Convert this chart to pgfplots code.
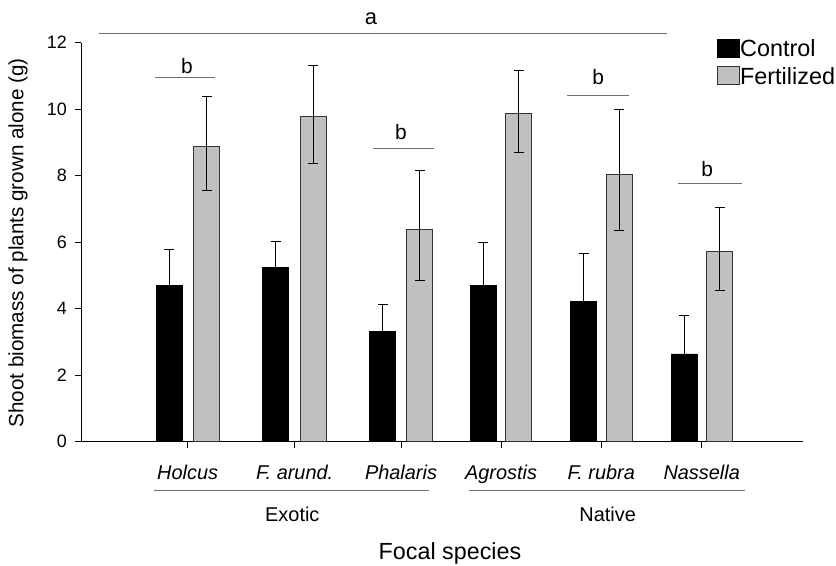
\documentclass[border=0pt]{standalone}
\usepackage{pgfplots}
\pgfplotsset{compat=1.18}
\usepackage{fontspec}
\setmainfont{Liberation Sans}
\definecolor{fert}{HTML}{C0C0C0}
\definecolor{annot}{HTML}{707070}
\begin{document}
\begin{tikzpicture}
\path[use as bounding box] (-81bp,-124.3bp) rectangle (755bp,441.7bp);
\begin{axis}[
  scale only axis,
  width=722bp, height=399bp,
  xmin=81, xmax=803, ymin=0, ymax=12,
  axis lines=left,
  axis line style={-, line width=1pt, black},
  clip=false,
  ytick={0,2,4,6,8,10,12},
  xtick={187.7,294.7,401,501,601.3,701.7},
  xticklabels={Holcus, F. arund., Phalaris, Agrostis, F. rubra, Nassella},
  tick align=outside,
  major tick length=6bp,
  tick style={line width=0.8pt, black},
  /pgf/number format/assume math mode=true,
  yticklabel style={font=\fontsize{18}{18}\selectfont, anchor=east, inner xsep=0pt, xshift=-8bp},
  xticklabel style={font=\fontsize{20}{20}\selectfont\itshape, anchor=base, yshift=-31.6bp},
  ylabel={Shoot biomass of plants grown alone (g)},
  ylabel style={font=\fontsize{20.7}{20.7}\selectfont, at={(axis cs:18,5.98)}, anchor=center},
  xlabel={Focal species},
  xlabel style={font=\fontsize{23.4}{23.4}\selectfont, at={(axis cs:450,-3.528)}, anchor=base},
  ybar, bar width=26, bar shift=0,
  legend style={at={(axis cs:716.7,12.13)}, anchor=north west, draw=none, fill=none,
    inner sep=0pt, font=\fontsize{23.5}{23.5}\selectfont, row sep=7bp,
    nodes={inner xsep=0.8bp, inner ysep=1bp}},
  legend cell align=left,
  legend image code/.code={\draw[#1, line width=0.8pt] (0bp,-8bp) rectangle (21.6bp,10bp);},
  error bars/y dir=both, error bars/y explicit,
  error bars/error bar style={line width=0.8pt, black},
  error bars/error mark options={mark size=5bp, line width=0.8pt, black, rotate=90},
]
\addplot[fill=black, draw=black, line width=0.8pt] coordinates {
  (169,4.70) += (0,1.09) -= (0,0.92)
  (275.5,5.25) += (0,0.77) -= (0,0.71)
  (382.5,3.32) += (0,0.81) -= (0,0.69)
  (483,4.71) += (0,1.29) -= (0,1.09)
  (583.7,4.21) += (0,1.44) -= (0,1.19)
  (684,2.64) += (0,1.15) -= (0,0.90)
};
\addlegendentry{Control}
\addplot[fill=fert, draw=black!80, line width=0.8pt] coordinates {
  (206.7,8.89) += (0,1.48) -= (0,1.33)
  (313.3,9.77) += (0,1.56) -= (0,1.40)
  (419.8,6.37) += (0,1.78) -= (0,1.51)
  (518.7,9.88) += (0,1.30) -= (0,1.19)
  (619,8.03) += (0,1.97) -= (0,1.69)
  (719.5,5.71) += (0,1.34) -= (0,1.17)
};
\addlegendentry{Fertilized}
% significance annotations
\draw[annot, line width=1pt] (axis cs:99.3,12.27) -- (axis cs:667.3,12.27);
\node[anchor=base, font=\fontsize{22}{22}\selectfont] at (axis cs:371,12.56) {a};
\draw[annot, line width=1pt] (axis cs:154.7,10.94) -- (axis cs:215.3,10.94);
\node[anchor=base, font=\fontsize{21}{21}\selectfont] at (axis cs:187,11.06) {b};
\draw[annot, line width=1pt] (axis cs:373.3,8.82) -- (axis cs:434,8.82);
\node[anchor=base, font=\fontsize{21}{21}\selectfont] at (axis cs:401,9.09) {b};
\draw[annot, line width=1pt] (axis cs:567.3,10.41) -- (axis cs:629.3,10.41);
\node[anchor=base, font=\fontsize{21}{21}\selectfont] at (axis cs:598.3,10.73) {b};
\draw[annot, line width=1pt] (axis cs:678.3,7.77) -- (axis cs:741.7,7.77);
\node[anchor=base, font=\fontsize{21}{21}\selectfont] at (axis cs:707.3,7.97) {b};
% group lines
\draw[annot, line width=1pt] (axis cs:154,-1.453) -- (axis cs:429.3,-1.453);
\draw[annot, line width=1pt] (axis cs:469.3,-1.453) -- (axis cs:745,-1.453);
\node[anchor=base, font=\fontsize{20}{20}\selectfont] at (axis cs:292.3,-2.385) {Exotic};
\node[anchor=base, font=\fontsize{20}{20}\selectfont] at (axis cs:607.7,-2.385) {Native};
\end{axis}
\end{tikzpicture}
\end{document}
